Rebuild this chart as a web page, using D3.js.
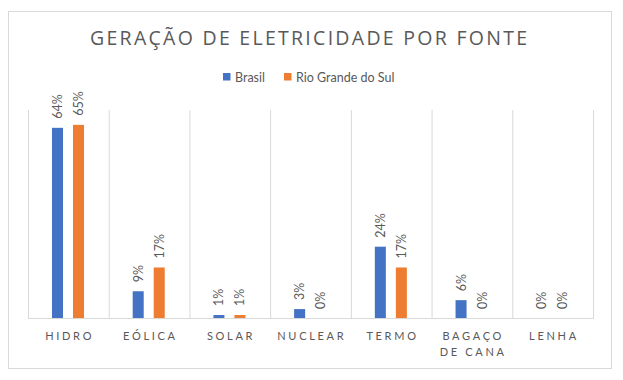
<!DOCTYPE html>
<html><head><meta charset="utf-8">
<script src="https://cdn.jsdelivr.net/npm/d3@7"></script>
<style>body{margin:0;background:#fff}svg{display:block}</style>
</head><body>
<svg id="c" width="623" height="380"></svg>
<script>
const categories = ["HIDRO", "EÓLICA", "SOLAR", "NUCLEAR", "TERMO", "BAGAÇO DE CANA", "LENHA"];
const categoryLines = [["HIDRO"], ["EÓLICA"], ["SOLAR"], ["NUCLEAR"], ["TERMO"], ["BAGAÇO", "DE CANA"], ["LENHA"]];
const seriesNames = ["Brasil", "Rio Grande do Sul"];
const brasil = [64, 9, 1, 3, 24, 6, 0];
const rgs = [65, 17, 1, 0, 17, 0, 0];
const colors = ["#4472C4", "#ED7D31"];
const title = "GERAÇÃO DE ELETRICIDADE POR FONTE";

const svg = d3.select("#c");
const plot = {l: 28, r: 593, t: 110, b: 318};
const textColor = "#595959";
const font = "Lato, 'Open Sans', sans-serif";

svg.append("rect").attr("x", 8.5).attr("y", 11.5).attr("width", 603).attr("height", 357)
  .attr("fill", "#fff").attr("stroke", "#d9d9d9").attr("stroke-width", 1);

// title
svg.append("text").attr("x", 90).attr("y", 45).attr("textLength", 437).attr("lengthAdjust", "spacing")
  .attr("fill", textColor).style("font-family", "'Open Sans', sans-serif").style("font-size", "19.5px")
  .text(title);

// legend
const legend = svg.append("g");
const legItems = [{x: 223, tx: 235}, {x: 284, tx: 296}];
seriesNames.forEach((n, i) => {
  legend.append("rect").attr("x", legItems[i].x).attr("y", 73).attr("width", 7.5).attr("height", 7.5).attr("fill", colors[i]);
  legend.append("text").attr("x", legItems[i].tx).attr("y", 81.5).attr("fill", textColor)
    .style("font-family", font).style("font-size", "12.5px").text(n);
});

const x0 = d3.scaleBand().domain(categories).range([plot.l, plot.r]).paddingInner(0).paddingOuter(0);
const bw = x0.bandwidth();
const x1 = d3.scaleBand().domain(seriesNames).range([bw * 0.297, bw * 0.694]).paddingInner(0.476).paddingOuter(0);
const y = d3.scaleLinear().domain([0, 70]).range([plot.b, plot.t]);

// vertical separators
const grid = svg.append("g");
const seps = categories.map(c => x0(c)).concat([plot.r]);
grid.selectAll("line").data(seps).join("line")
  .attr("x1", d => d + 0.5).attr("x2", d => d + 0.5).attr("y1", plot.t).attr("y2", plot.b)
  .attr("stroke", "#d9d9d9").attr("stroke-width", 1);

// bars
const data = categories.map((c, i) => ({c, vals: [brasil[i], rgs[i]]}));
const groups = svg.append("g").selectAll("g").data(data).join("g")
  .attr("transform", d => `translate(${x0(d.c)},0)`);
groups.selectAll("rect").data(d => d.vals.map((v, i) => ({v, s: seriesNames[i], i})))
  .join("rect")
  .attr("x", d => x1(d.s)).attr("width", x1.bandwidth())
  .attr("y", d => y(d.v)).attr("height", d => y(0) - y(d.v))
  .attr("fill", d => colors[d.i]);
groups.selectAll("text").data(d => d.vals.map((v, i) => ({v, s: seriesNames[i], i})))
  .join("text")
  .attr("transform", d => `translate(${x1(d.s) + x1.bandwidth() / 2 + 4.5},${y(d.v) - 9}) rotate(-90)`)
  .attr("fill", textColor).style("font-family", font).style("font-size", "12.5px")
  .text(d => d.v + "%");

// baseline
svg.append("line").attr("x1", plot.l).attr("x2", plot.r + 1).attr("y1", plot.b + 0.5).attr("y2", plot.b + 0.5)
  .attr("stroke", "#d9d9d9");

// category labels
const xAxis = svg.append("g");
categories.forEach((c, i) => {
  const t = xAxis.append("text").attr("text-anchor", "middle").attr("fill", textColor)
    .style("font-family", font).style("font-size", "11px").style("letter-spacing", "2.7px");
  categoryLines[i].forEach((ln, k) => {
    t.append("tspan").attr("x", x0(c) + bw / 2 + 1.3).attr("y", 339.5 + k * 16.5).text(ln);
  });
});
</script>
</body></html>
